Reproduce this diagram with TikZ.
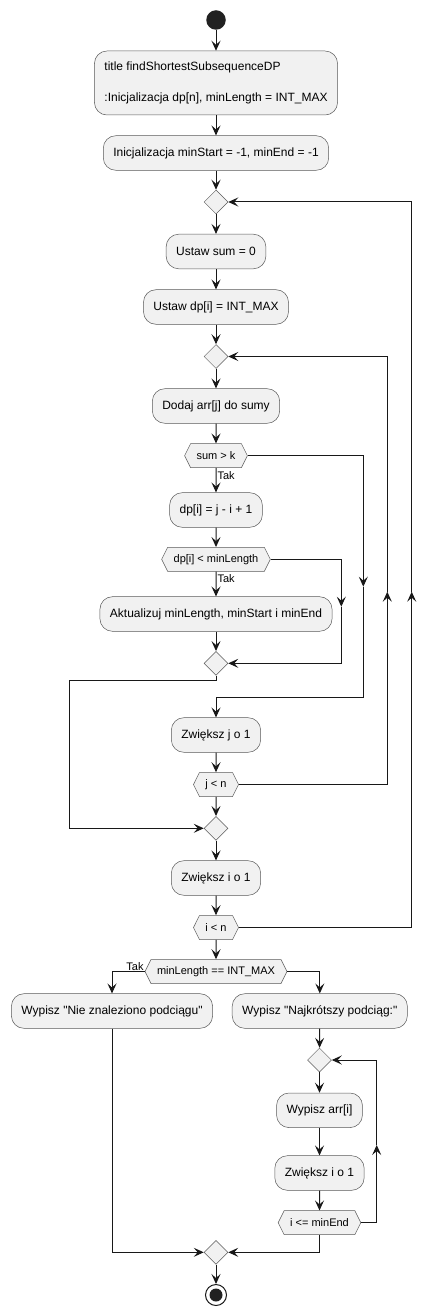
\documentclass[tikz,border=0pt]{standalone}
\usepackage{fontspec}
\setmainfont{Liberation Sans}
\usetikzlibrary{shapes.geometric,shapes.symbols,arrows.meta}
\definecolor{actfill}{HTML}{F1F1F1}
\definecolor{actline}{HTML}{181818}
\tikzset{
	act/.style={shape=rectangle, rounded corners=12.5bp, draw=black!65, line width=0.5bp, fill=actfill, inner xsep=10bp, minimum height=34.6bp, font=\fontsize{12bp}{15.5bp}\selectfont},
	cond/.style={shape=signal, signal to=west and east, signal pointer angle=127, draw=black!65, line width=0.5bp, fill=actfill, inner xsep=6bp, inner ysep=0bp, minimum height=24bp, font=\fontsize{11bp}{13bp}\selectfont},
	merge/.style={shape=diamond, draw=black!65, line width=0.5bp, fill=actfill, inner sep=0pt, minimum size=24bp},
	lbl/.style={font=\fontsize{11bp}{13bp}\selectfont, inner sep=1bp},
	arr/.style={-{Stealth[length=10bp, width=9bp, inset=4bp]}, line width=1bp, draw=actline},
	ln/.style={line width=1bp, draw=actline}
}
\begin{document}
\begin{tikzpicture}[x=1bp, y=-1bp]
	\useasboundingbox (0,0) rectangle (436,1316);
	% glowna petla
	\node (start) at (216,20) [circle, fill=black!87, minimum size=19.5bp, inner sep=0pt] {};
	\node (init1) at (216,83) [act, align=left, minimum height=64bp] {title findShortestSubsequenceDP\\[15.5bp]:Inicjalizacja dp[n], minLength = INT\_MAX};
	\node (init2) at (216,153) [act] {Inicjalizacja minStart = -1, minEnd = -1};
	\node (d1) at (216,202) [merge] {};
	\node (sum0) at (216,251.5) [act] {Ustaw sum = 0};
	\node (dpmax) at (216,307) [act] {Ustaw dp[i] = INT\_MAX};
	\node (d2) at (216,356.5) [merge] {};
	\node (dodaj) at (216,406) [act] {Dodaj arr[j] do sumy};
	\node (sumk) at (216,455.7) [cond] {sum > k};
	\node (dpi) at (216,510) [act] {dp[i] = j - i + 1};
	\node (dpmin) at (216,559.3) [cond] {dp[i] < minLength};
	\node (akt) at (216,614) [act] {Aktualizuj minLength, minStart i minEnd};
	\node (d3) at (216,663.3) [merge] {};
	\node (incj) at (216,735) [act] {Zwiększ j o 1};
	\node (jn) at (216,784.5) [cond] {j < n};
	\node (d4) at (216,828.3) [merge] {};
	\node (inci) at (216,878) [act] {Zwiększ i o 1};
	\node (in) at (216,927.5) [cond] {i < n};
	\node (minlen) at (216,971.5) [cond] {minLength == INT\_MAX};
	% wypisywanie
	\node (nie) at (112,1011) [act] {Wypisz \textquotedbl Nie znaleziono podciągu\textquotedbl};
	\node (naj) at (319.8,1011) [act] {Wypisz \textquotedbl Najkrótszy podciąg:\textquotedbl};
	\node (d5) at (319.5,1060) [merge] {};
	\node (warr) at (319.5,1110.3) [act] {Wypisz arr[i]};
	\node (inci2) at (319.5,1173) [act] {Zwiększ i o 1};
	\node (le) at (319.5,1222.7) [cond] {i <= minEnd};
	\node (d6) at (216,1252.3) [merge] {};
	\node (stop) at (216,1295) [circle, draw=actline, line width=1bp, fill=white, minimum size=21bp, inner sep=0pt] {};
	\fill[black!87] (stop) circle (6.5bp);
	% punkty pomocnicze
	\coordinate (sk) at (363.3,586.7);
	\coordinate (sk2) at (216,697.3);
	\coordinate (dm) at (341.3,606.7);
	\coordinate (lf) at (69.3,680);
	\coordinate (jl) at (387.3,591.7);
	\coordinate (il) at (411.7,591.7);
	\coordinate (ll) at (376.7,1145);
	% polaczenia
	\draw [arr] (start) -- (init1);
	\draw [arr] (init1) -- (init2);
	\draw [arr] (init2) -- (d1);
	\draw [arr] (d1) -- (sum0);
	\draw [arr] (sum0) -- (dpmax);
	\draw [arr] (dpmax) -- (d2);
	\draw [arr] (d2) -- (dodaj);
	\draw [arr] (dodaj) -- (sumk);
	\draw [arr] (sumk) -- node [lbl, anchor=west, pos=0.3] {Tak} (dpi);
	\draw [arr] (dpi) -- (dpmin);
	\draw [arr] (dpmin) -- node [lbl, anchor=west, pos=0.3] {Tak} (akt);
	\draw [arr] (akt) -- (d3);
	\draw [arr] (sumk.east) -| (sk);
	\draw [ln] (sk) |- (sk2);
	\draw [arr] (sk2) -- (incj);
	\draw [arr] (dpmin.east) -| (dm);
	\draw [arr] (dm) |- (d3.east);
	\draw [ln] (d3.south) |- (lf);
	\draw [arr] (lf) |- (d4.west);
	\draw [arr] (incj) -- (jn);
	\draw [arr] (jn.east) -| (jl);
	\draw [arr] (jl) |- (d2.east);
	\draw [arr] (jn) -- (d4);
	\draw [arr] (d4) -- (inci);
	\draw [arr] (inci) -- (in);
	\draw [arr] (in.east) -| (il);
	\draw [arr] (il) |- (d1.east);
	\draw [arr] (in) -- (minlen);
	\draw [arr] (minlen.west) -| (nie.north);
	\node [lbl, anchor=south east] at (minlen.west) {Tak};
	\draw [arr] (minlen.east) -| (naj.north);
	\draw [arr] (naj) -- (d5);
	\draw [arr] (d5) -- (warr);
	\draw [arr] (warr) -- (inci2);
	\draw [arr] (inci2) -- (le);
	\draw [arr] (le.east) -| (ll);
	\draw [arr] (ll) |- (d5.east);
	\draw [arr] (le.south) |- (d6.east);
	\draw [arr] (nie.south) |- (d6.west);
	\draw [arr] (d6) -- (stop);
\end{tikzpicture}
\end{document}
